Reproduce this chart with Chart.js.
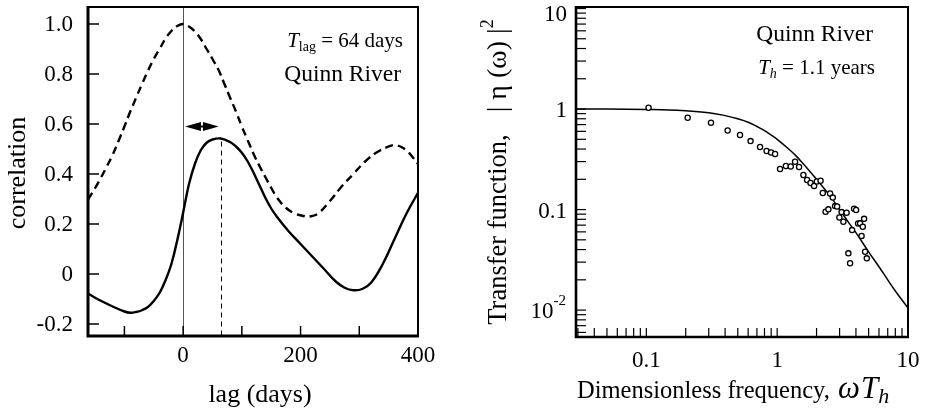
<!DOCTYPE html>
<html><head><meta charset="utf-8">
<script src="https://cdn.jsdelivr.net/npm/chart.js@4.4.0/dist/chart.umd.min.js"></script>
<style>
html,body{margin:0;padding:0;background:#fff;}
#wrap{position:relative;width:928px;height:416px;background:#fff;}
canvas{position:absolute;top:0;}
#c1{left:0;} #c2{left:464px;}
</style></head><body>
<div id="wrap"><canvas id="c1" width="464" height="416"></canvas><canvas id="c2" width="464" height="416"></canvas></div>
<script>
// ---------------- Left panel data ----------------
const autoLag  = [-162,-150,-140,-130,-120,-110,-100,-90,-80,-70,-60,-50,-40,-30,-20,-10,0,10,20,30,40,50,60,70,80,90,100,110,120,130,140,150,160,175,190,205,216,230,250,270,290,310,330,350,360,370,380,390,400];
const autoCorr = [0.298,0.343,0.385,0.43,0.477,0.532,0.59,0.65,0.705,0.76,0.812,0.86,0.90,0.942,0.972,0.992,1.0,0.99,0.97,0.94,0.90,0.86,0.818,0.762,0.705,0.65,0.59,0.535,0.48,0.432,0.388,0.345,0.305,0.265,0.242,0.232,0.23,0.242,0.292,0.35,0.40,0.45,0.487,0.51,0.516,0.51,0.495,0.47,0.44];
const crossLag  = [-162,-150,-140,-120,-100,-90,-80,-70,-60,-50,-40,-30,-20,-10,0,10,20,30,40,50,64,80,90,100,110,120,130,140,150,160,180,200,220,240,260,275,290,305,320,340,360,380,400];
const crossCorr = [-0.078,-0.095,-0.107,-0.13,-0.15,-0.155,-0.152,-0.145,-0.132,-0.108,-0.075,-0.025,0.04,0.135,0.245,0.36,0.44,0.495,0.525,0.538,0.542,0.528,0.51,0.485,0.45,0.405,0.355,0.305,0.262,0.228,0.17,0.12,0.07,0.02,-0.03,-0.055,-0.065,-0.06,-0.035,0.04,0.14,0.24,0.325];
const corrTicks = [-0.2,0,0.2,0.4,0.6,0.8,1.0];
const corrTickLabels = ['-0.2','0','0.2','0.4','0.6','0.8','1.0'];
const lagTicks = [-100,0,100,200,300,400];
const lagTickLabels = [null,'0',null,'200',null,'400'];
const Tlag = 64;          // days
const crossPeak = 0.542;  // peak of cross-correlation
const arrowLevel = 0.59;  // height of the double arrow

// ---------------- Right panel data ----------------
const freqPts = [0.104,0.207,0.312,0.418,0.52,0.626,0.74,0.83,0.898,0.964,1.052,1.166,1.27,1.37,1.47,1.586,1.693,1.80,1.915,2.009,2.147,2.232,2.537,2.661,2.344,2.463,2.771,2.871,3.108,3.394,2.989,3.207,3.872,4.011,4.155,4.303,4.617,4.512,3.738,4.418,3.503,3.609,4.699,4.842];
const transferPts = [1.03,0.819,0.731,0.611,0.551,0.48,0.419,0.382,0.369,0.357,0.253,0.271,0.268,0.299,0.265,0.2205,0.1966,0.1835,0.1713,0.19,0.1934,0.146,0.1443,0.1316,0.0951,0.1005,0.1083,0.1071,0.0944,0.0929,0.0833,0.0756,0.1019,0.0989,0.0726,0.0729,0.0808,0.0674,0.0625,0.0547,0.0367,0.0292,0.038,0.0327];
const curveFreq = [0.029,0.05,0.1,0.15,0.2,0.3,0.4,0.5,0.6,0.7,0.8,0.9,1,1.2,1.4,1.6,1.8,2,2.5,3,3.5,4,5,6,7,8,10];
const curveTransfer = [1.0,1.0,0.99,0.98,0.96,0.92,0.86,0.80,0.74,0.67,0.61,0.55,0.50,0.41,0.34,0.28,0.235,0.20,0.14,0.10,0.075,0.059,0.038,0.027,0.020,0.0155,0.0105];
const freqMajor = [0.1,1,10];
const freqMajorLabels = ['0.1','1','10'];
const transferMajor = [10,1,0.1,0.01];
const transferMajorLabels = ['10','1','0.1','10|-2'];
const Th = 1.1; // years

const F = '"Liberation Serif", "Times New Roman", serif';
const OFF = 464; // page x of the right canvas

function richWidth(ctx, parts){
  let w = 0;
  for (const p of parts){ ctx.font = p.font; w += ctx.measureText(p.t).width + (p.dx||0); }
  return w;
}
function drawRich(ctx, parts, x, y, align){
  const w = richWidth(ctx, parts);
  let cx = align === 'right' ? x - w : (align === 'center' ? x - w/2 : x);
  ctx.textAlign = 'left'; ctx.textBaseline = 'alphabetic';
  for (const p of parts){
    ctx.font = p.font;
    ctx.fillText(p.t, cx, y + (p.dy||0));
    cx += ctx.measureText(p.t).width + (p.dx||0);
  }
}

// ---------------- Left chart ----------------
const leftDecor = {
  id: 'leftDecor',
  beforeDatasetsDraw(chart){
    const {ctx, chartArea:a, scales:{x, y}} = chart;
    ctx.save();
    const x0 = Math.round(x.getPixelForValue(0)) + 0.5;
    ctx.strokeStyle = '#555'; ctx.lineWidth = 1;
    ctx.beginPath(); ctx.moveTo(x0, a.top); ctx.lineTo(x0, a.bottom); ctx.stroke();
    const xl = Math.round(x.getPixelForValue(Tlag)) + 0.5;
    const yp = y.getPixelForValue(crossPeak);
    ctx.strokeStyle = '#000'; ctx.setLineDash([5,4]);
    ctx.beginPath(); ctx.moveTo(xl, yp + 3); ctx.lineTo(xl, a.bottom); ctx.stroke();
    ctx.restore();
  },
  afterDatasetsDraw(chart){
    const {ctx, chartArea:a, scales:{x, y}} = chart;
    ctx.save();
    ctx.strokeStyle = '#000';
    ctx.lineWidth = 2;
    ctx.beginPath(); ctx.moveTo(a.left, a.top); ctx.lineTo(a.right, a.top); ctx.lineTo(a.right, a.bottom); ctx.stroke();
    ctx.lineWidth = 3;
    ctx.beginPath(); ctx.moveTo(a.left, a.top - 1); ctx.lineTo(a.left, a.bottom); ctx.lineTo(a.right + 1, a.bottom); ctx.stroke();
    ctx.lineWidth = 1.5;
    corrTicks.forEach(v => {
      const py = y.getPixelForValue(v);
      ctx.beginPath(); ctx.moveTo(a.left, py); ctx.lineTo(a.left + 11, py); ctx.stroke();
    });
    lagTicks.forEach(v => {
      const px = x.getPixelForValue(v);
      ctx.beginPath(); ctx.moveTo(px, a.bottom); ctx.lineTo(px, a.bottom - 10); ctx.stroke();
    });
    ctx.fillStyle = '#000';
    ctx.font = '23px ' + F;
    ctx.textAlign = 'right'; ctx.textBaseline = 'middle';
    corrTicks.forEach((v, i) => ctx.fillText(corrTickLabels[i], 73, y.getPixelForValue(v) + 1));
    ctx.textAlign = 'center'; ctx.textBaseline = 'alphabetic';
    lagTicks.forEach((v, i) => { if (lagTickLabels[i]) ctx.fillText(lagTickLabels[i], x.getPixelForValue(v), 362); });
    // double arrow
    const xa = x.getPixelForValue(0) + 2, xb = x.getPixelForValue(Tlag) - 2, ya = y.getPixelForValue(arrowLevel);
    const xm = (xa + xb) / 2;
    ctx.beginPath(); ctx.moveTo(xa, ya); ctx.lineTo(xm - 1, ya - 4.5); ctx.lineTo(xm - 1, ya + 4.5); ctx.closePath(); ctx.fill();
    ctx.beginPath(); ctx.moveTo(xb, ya); ctx.lineTo(xm + 1, ya - 4.5); ctx.lineTo(xm + 1, ya + 4.5); ctx.closePath(); ctx.fill();
    ctx.lineWidth = 2; ctx.beginPath(); ctx.moveTo(xm - 2, ya); ctx.lineTo(xm + 2, ya); ctx.stroke();
    drawRich(ctx, [
      {t:'T', font:'italic 21px ' + F},
      {t:'lag', font:'14px ' + F, dy:4},
      {t:' = ' + Tlag + ' days', font:'21px ' + F}
    ], 403, 46.5, 'right');
    ctx.font = '23.5px ' + F; ctx.textAlign = 'right'; ctx.textBaseline = 'alphabetic';
    ctx.fillText('Quinn River', 401, 81);
    ctx.font = '26px ' + F; ctx.textAlign = 'center';
    ctx.fillText('lag (days)', 260, 402);
    ctx.save(); ctx.translate(25, 173); ctx.rotate(-Math.PI/2);
    ctx.fillText('correlation', 0, 0); ctx.restore();
    ctx.restore();
  }
};

new Chart(document.getElementById('c1'), {
  type: 'line',
  data: { datasets: [
    { data: autoLag.map((v, i) => ({x: v, y: autoCorr[i]})), borderColor:'#000', borderWidth:2.4, borderDash:[8,5], pointRadius:0, tension:0.4, fill:false },
    { data: crossLag.map((v, i) => ({x: v, y: crossCorr[i]})), borderColor:'#000', borderWidth:2.4, pointRadius:0, tension:0.4, fill:false }
  ]},
  options: {
    responsive:false, animation:false, devicePixelRatio:1,
    layout:{padding:{left:88, right:46, top:7, bottom:80}},
    plugins:{legend:{display:false}, tooltip:{enabled:false}},
    scales:{
      x:{type:'linear', min:-162, max:400, display:false},
      y:{type:'linear', min:-0.248, max:1.068, display:false}
    }
  },
  plugins:[leftDecor]
});

// ---------------- Right chart ----------------
const rightDecor = {
  id: 'rightDecor',
  afterDatasetsDraw(chart){
    const {ctx, chartArea:a, scales:{x, y}} = chart;
    ctx.save();
    ctx.strokeStyle = '#000'; ctx.fillStyle = '#000';
    ctx.lineWidth = 2;
    ctx.beginPath(); ctx.moveTo(a.left, a.top); ctx.lineTo(a.right, a.top); ctx.lineTo(a.right, a.bottom); ctx.stroke();
    ctx.lineWidth = 2.6;
    ctx.beginPath(); ctx.moveTo(a.left, a.top - 1); ctx.lineTo(a.left, a.bottom); ctx.lineTo(a.right + 1, a.bottom); ctx.stroke();
    ctx.lineWidth = 1.2;
    for (let e = -3; e <= 1; e++) {
      for (let k = 1; k <= 9; k++) {
        const v = k * Math.pow(10, e);
        if (v >= y.min && v <= y.max) {
          const py = y.getPixelForValue(v);
          ctx.beginPath(); ctx.moveTo(a.left, py); ctx.lineTo(a.left + 10, py); ctx.stroke();
        }
        if (v >= x.min && v <= x.max) {
          const px = x.getPixelForValue(v);
          ctx.beginPath(); ctx.moveTo(px, a.bottom); ctx.lineTo(px, a.bottom - 9); ctx.stroke();
        }
      }
    }
    ctx.textBaseline = 'middle';
    transferMajor.forEach((v, i) => {
      const lab = transferMajorLabels[i];
      const py = Math.max(y.getPixelForValue(v) + 2, 15);
      if (lab.indexOf('|') >= 0) {
        const [b, ex] = lab.split('|');
        ctx.font = '15px ' + F; ctx.textAlign = 'right';
        ctx.fillText(ex, 566 - OFF, py - 11);
        const w = ctx.measureText(ex).width;
        ctx.font = '23px ' + F;
        ctx.fillText(b, 566 - OFF - w, py);
      } else {
        ctx.font = '23px ' + F; ctx.textAlign = 'right';
        ctx.fillText(lab, 567 - OFF, py);
      }
    });
    ctx.font = '23px ' + F; ctx.textAlign = 'center'; ctx.textBaseline = 'alphabetic';
    freqMajor.forEach((v, i) => ctx.fillText(freqMajorLabels[i], x.getPixelForValue(v), 366.5));
    ctx.font = '23.5px ' + F; ctx.textAlign = 'right';
    ctx.fillText('Quinn River', 873 - OFF, 40.7);
    drawRich(ctx, [
      {t:'T', font:'italic 21px ' + F},
      {t:'h', font:'italic 14px ' + F, dy:4},
      {t:' = ' + Th + ' years', font:'21px ' + F}
    ], 875 - OFF, 74, 'right');
    drawRich(ctx, [
      {t:'Dimensionless frequency, ', font:'24.5px ' + F, dx:2},
      {t:'ω', font:'italic 31px ' + F, dx:1},
      {t:'T', font:'italic 31px ' + F, dx:0},
      {t:'h', font:'italic 22px ' + F, dy:5}
    ], 577 - OFF, 398, 'left');
    ctx.save(); ctx.translate(506 - OFF, 172); ctx.rotate(-Math.PI/2);
    drawRich(ctx, [
      {t:'Transfer function,', font:'26.5px ' + F, dx:22},
      {t:'| η (ω) |', font:'28px ' + F},
      {t:'2', font:'18px ' + F, dy:-13}
    ], 0, 0, 'center');
    ctx.restore();
    ctx.restore();
  }
};

new Chart(document.getElementById('c2'), {
  type: 'scatter',
  data: { datasets: [
    { type:'line', data: curveFreq.map((v, i) => ({x: v, y: curveTransfer[i]})), borderColor:'#000', borderWidth:1.5, pointRadius:0, tension:0.4, fill:false, order:2 },
    { type:'scatter', data: freqPts.map((v, i) => ({x: v, y: transferPts[i]})), pointRadius:2.6, pointBorderWidth:1.3, pointBackgroundColor:'#fff', pointBorderColor:'#000', borderColor:'#000', backgroundColor:'#fff', order:1 }
  ]},
  options: {
    responsive:false, animation:false, devicePixelRatio:1,
    layout:{padding:{left:112, right:20, top:7, bottom:79}},
    plugins:{legend:{display:false}, tooltip:{enabled:false}},
    scales:{
      x:{type:'logarithmic', min:0.029, max:10, display:false},
      y:{type:'logarithmic', min:0.0054, max:10.35, display:false}
    }
  },
  plugins:[rightDecor]
});
</script>
</body></html>
